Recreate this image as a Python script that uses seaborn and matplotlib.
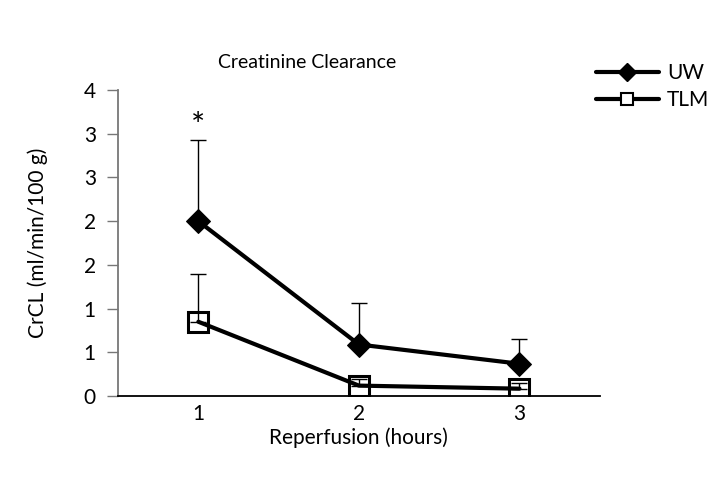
import pandas as pd
import seaborn as sns
import matplotlib.pyplot as plt
from matplotlib.lines import Line2D

# values
hours = [1, 2, 3]
uw_mean = [2.0, 0.59, 0.37]
uw_err = [0.93, 0.48, 0.28]
tlm_mean = [0.85, 0.12, 0.085]
tlm_err = [0.55, 0.07, 0.065]
y_ticks = [0, 0.5, 1, 1.5, 2, 2.5, 3, 3.5]
y_labels = ["0", "1", "1", "2", "2", "3", "3", "4"]

df = pd.DataFrame({
    "hours": hours * 2,
    "crcl": uw_mean + tlm_mean,
    "group": ["UW"] * 3 + ["TLM"] * 3,
})

sns.set_style("white")
plt.rcParams["font.family"] = ["Lato", "DejaVu Sans"]
plt.rcParams["text.color"] = "black"
plt.rcParams["axes.labelcolor"] = "black"
plt.rcParams["xtick.color"] = "black"
plt.rcParams["ytick.color"] = "black"

fig = plt.figure(figsize=(7.2, 4.97), dpi=100)
ax = fig.add_axes([0.164, 0.203, 0.669, 0.616])

# upper error bars only
ax.errorbar(hours, uw_mean, yerr=[[0] * 3, uw_err], fmt="none", ecolor="black",
            elinewidth=1, capsize=6, capthick=1, zorder=1)
ax.errorbar(hours, tlm_mean, yerr=[[0] * 3, tlm_err], fmt="none", ecolor="black",
            elinewidth=1, capsize=6, capthick=1, zorder=1)

sns.lineplot(data=df[df.group == "UW"], x="hours", y="crcl", ax=ax, color="black",
             linewidth=3, marker="D", markersize=12, markerfacecolor="black",
             markeredgecolor="black", legend=False, zorder=3)
sns.lineplot(data=df[df.group == "TLM"], x="hours", y="crcl", ax=ax, color="black",
             linewidth=3, marker="s", markersize=15, markerfacecolor="none",
             markeredgecolor="black", markeredgewidth=2.2, legend=False, zorder=3)

ax.text(1, 3.08, "*", ha="center", va="center", fontsize=24)

ax.set_xlim(0.5, 3.5)
ax.set_ylim(0, 3.5)
ax.set_xticks(hours)
ax.set_xticklabels([str(h) for h in hours], fontsize=15)
ax.set_yticks(y_ticks)
ax.set_yticklabels(y_labels, fontsize=15)
ax.tick_params(axis="y", direction="out", length=8, width=1, color="#777777", left=True, pad=8)
ax.tick_params(axis="x", length=0, pad=6)

for s in ["top", "right"]:
    ax.spines[s].set_visible(False)
ax.spines["left"].set_color("#777777")
ax.spines["left"].set_linewidth(1.3)
ax.spines["bottom"].set_color("black")
ax.spines["bottom"].set_linewidth(1.3)

ax.set_xlabel("Reperfusion (hours)", fontsize=15, labelpad=2)
ax.set_ylabel("CrCL (ml/min/100 g)", fontsize=15, labelpad=26)
fig.text(0.427, 0.875, "Creatinine Clearance", ha="center", va="center", fontsize=14)

handles = [
    Line2D([], [], color="black", linewidth=3, marker="D", markersize=9,
           markerfacecolor="black"),
    Line2D([], [], color="black", linewidth=3, marker="s", markersize=9,
           markerfacecolor="white", markeredgewidth=1.5),
]
fig.legend(handles, ["UW", "TLM"], loc="upper left", bbox_to_anchor=(0.822, 0.882),
           frameon=False, fontsize=15, handlelength=3.0, handletextpad=0.4,
           labelspacing=0.35, numpoints=1, borderaxespad=0, borderpad=0.2)

fig.savefig("out.png", dpi=100)
